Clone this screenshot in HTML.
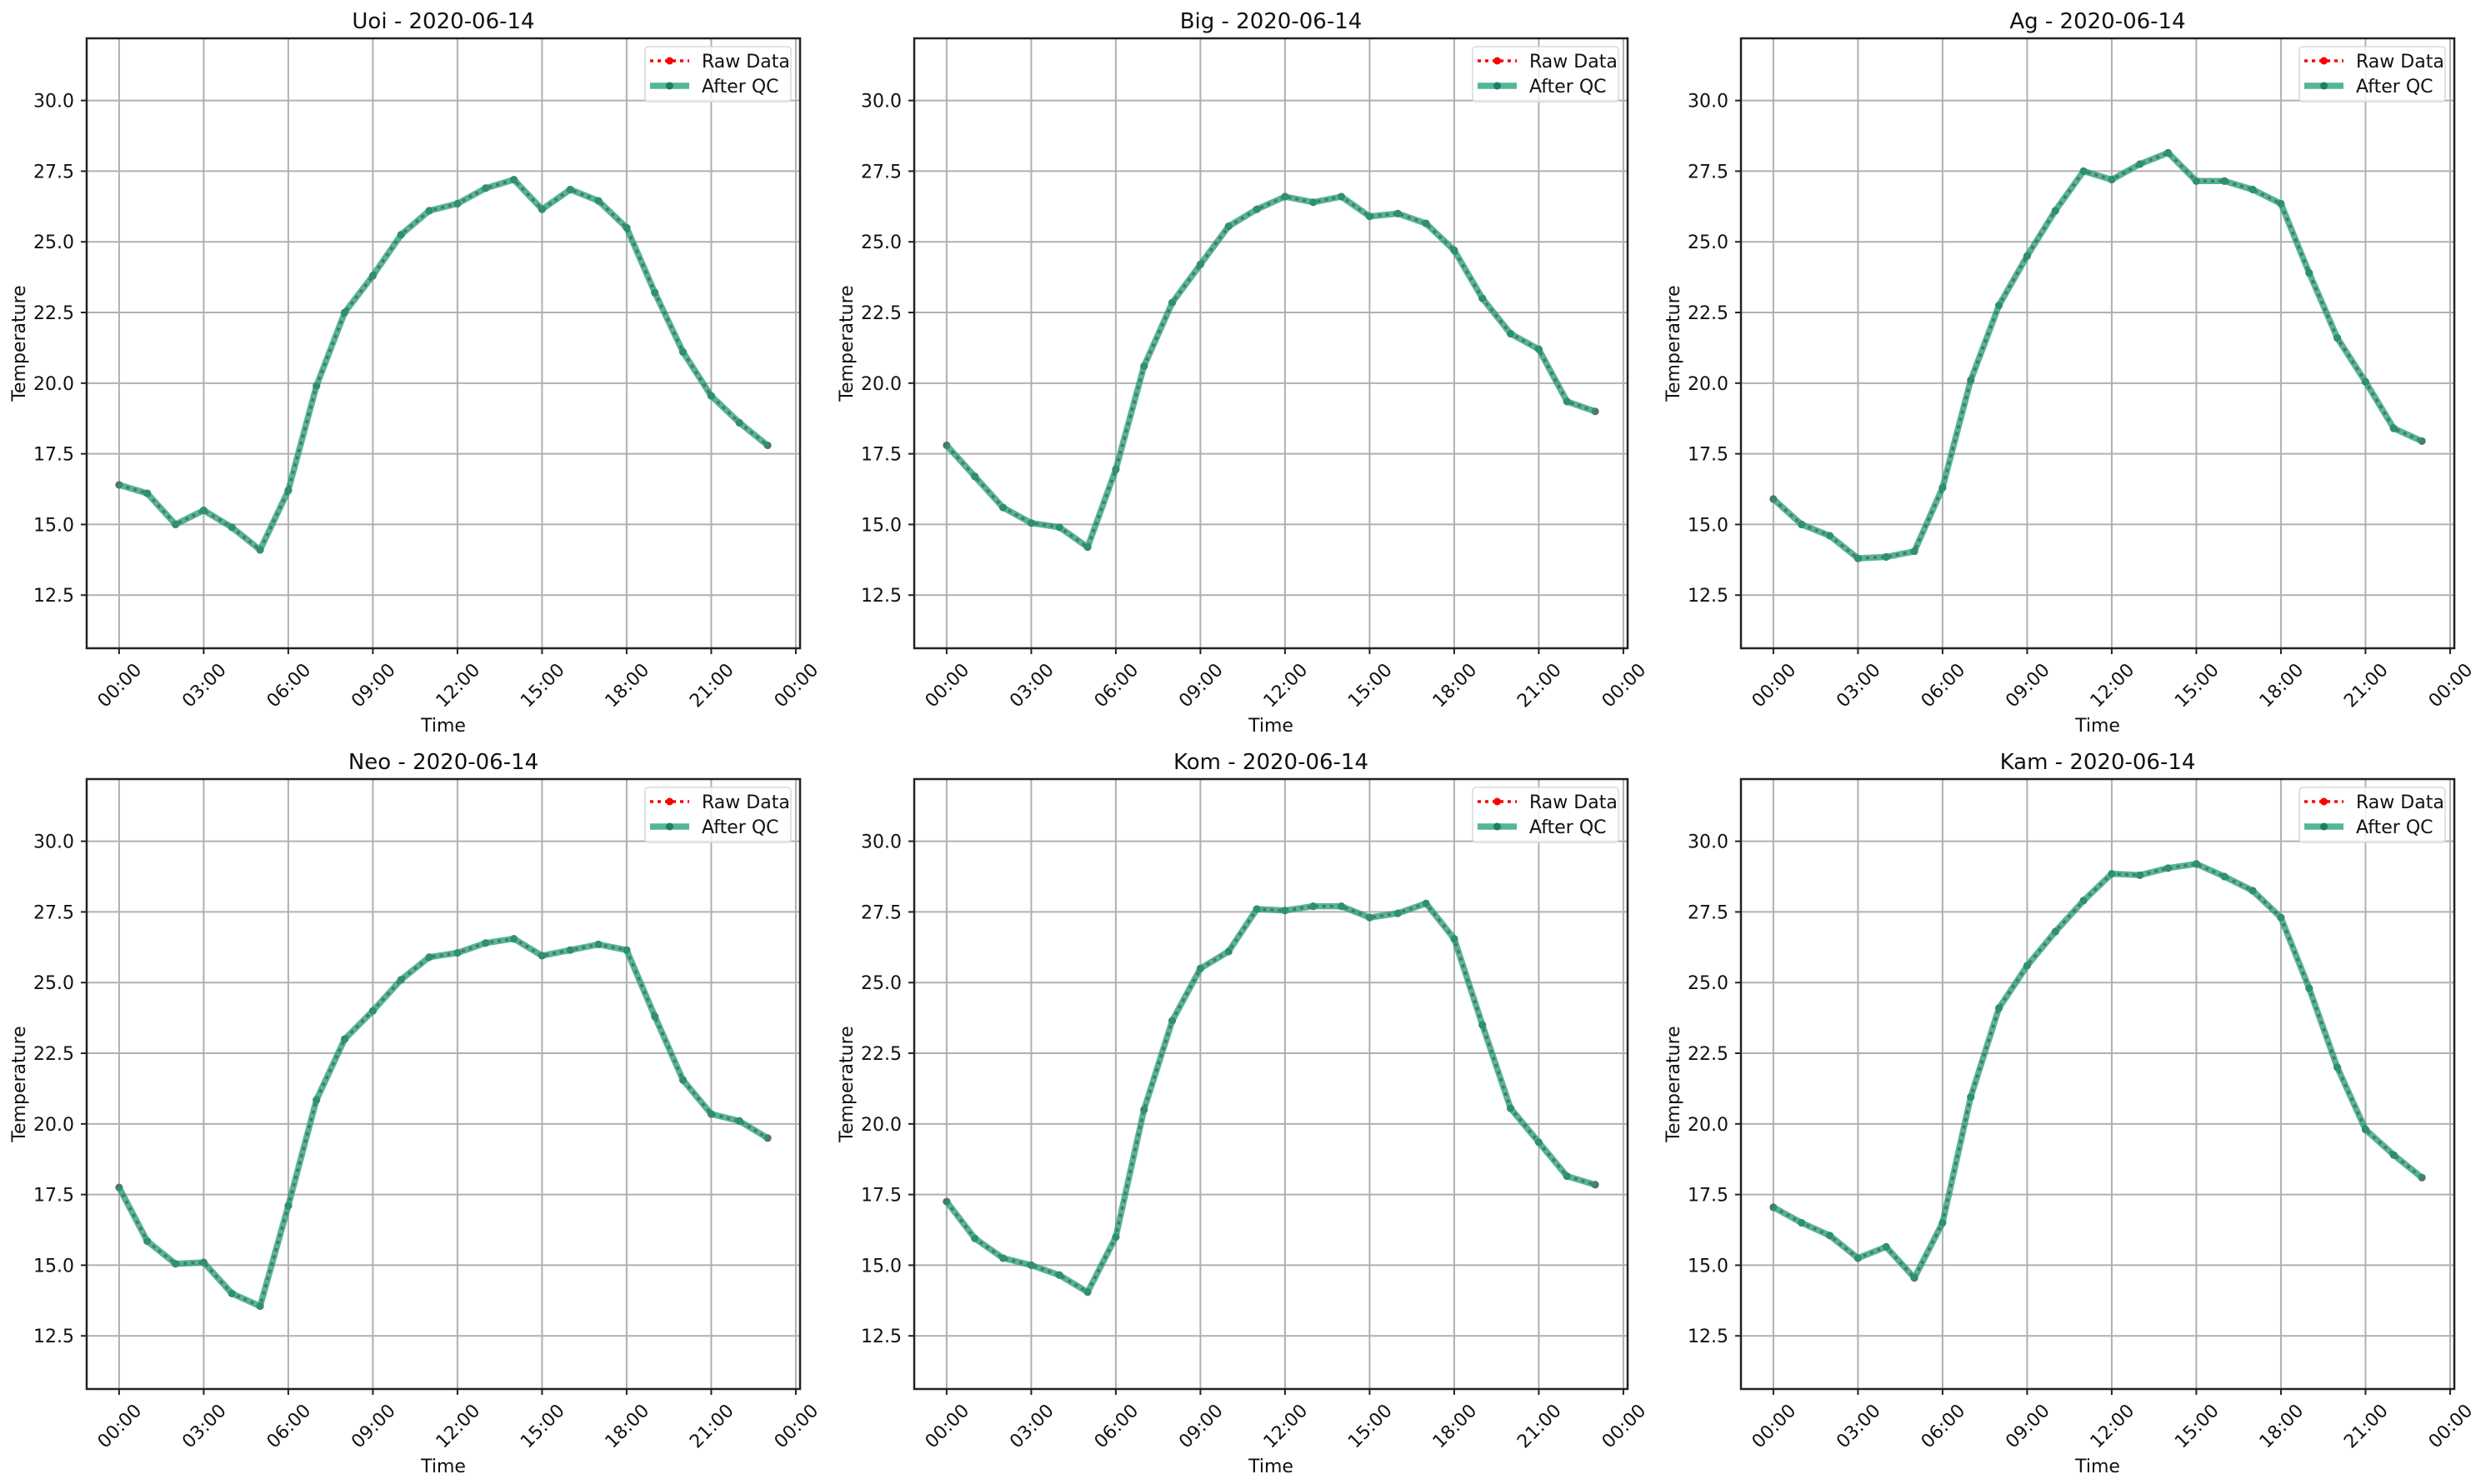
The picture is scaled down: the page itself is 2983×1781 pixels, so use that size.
<!DOCTYPE html>
<html><head><meta charset="utf-8">
<style>
html,body{margin:0;padding:0;background:#fff;}
svg{display:block;font-family:"DejaVu Sans","Liberation Sans",sans-serif;}
</style></head>
<body>
<svg id="fig" width="2983" height="1781" viewBox="0 0 2983 1781" xmlns="http://www.w3.org/2000/svg"></svg>
<script>
const stations = ["Uoi","Big","Ag","Neo","Kom","Kam"];
const dateLabel = "2020-06-14";
const hours = [0,1,2,3,4,5,6,7,8,9,10,11,12,13,14,15,16,17,18,19,20,21,22,23];
const uoiValues = [16.4,16.1,15.0,15.5,14.9,14.1,16.2,19.9,22.5,23.8,25.25,26.1,26.35,26.9,27.2,26.15,26.85,26.45,25.5,23.2,21.1,19.55,18.6,17.8];
const bigValues = [17.8,16.7,15.6,15.05,14.9,14.2,16.95,20.6,22.85,24.2,25.55,26.15,26.6,26.4,26.6,25.9,26.0,25.65,24.7,23.0,21.75,21.2,19.35,19.0];
const agValues = [15.9,15.0,14.6,13.8,13.85,14.05,16.3,20.1,22.75,24.5,26.1,27.5,27.2,27.75,28.15,27.15,27.15,26.85,26.35,23.9,21.6,20.05,18.4,17.95];
const neoValues = [17.75,15.85,15.05,15.1,14.0,13.55,17.1,20.85,23.0,24.0,25.1,25.9,26.05,26.4,26.55,25.95,26.15,26.35,26.15,23.8,21.55,20.35,20.1,19.5];
const komValues = [17.25,15.95,15.25,15.0,14.65,14.05,16.0,20.5,23.65,25.5,26.1,27.6,27.55,27.7,27.7,27.3,27.45,27.8,26.55,23.5,20.55,19.35,18.15,17.85];
const kamValues = [17.05,16.5,16.05,15.25,15.65,14.55,16.5,20.95,24.1,25.6,26.8,27.9,28.85,28.8,29.05,29.2,28.75,28.25,27.3,24.8,22.0,19.8,18.9,18.1];
const yTicks = [12.5,15.0,17.5,20.0,22.5,25.0,27.5,30.0];
const xTicks = [0,3,6,9,12,15,18,21,24];
const xTickLabels = ["00:00","03:00","06:00","09:00","12:00","15:00","18:00","21:00","00:00"];

const allValues = [uoiValues,bigValues,agValues,neoValues,komValues,kamValues];
const NS = "http://www.w3.org/2000/svg";
const fig = document.getElementById("fig");
const colX = [104,1097,2089], rowY = [46,935], W = 856, H = 732;
const xMin = -1.15, xMax = 24.15, yMin = 10.62, yMax = 32.2;

function mk(tag, attrs, parent){
  const e = document.createElementNS(NS, tag);
  for (const k in attrs) e.setAttribute(k, attrs[k]);
  parent.appendChild(e); return e;
}

allValues.forEach((vals, i) => {
  const ox = colX[i%3], oy = rowY[Math.floor(i/3)];
  const sx = h => ox + (h - xMin) / (xMax - xMin) * W;
  const sy = v => oy + (yMax - v) / (yMax - yMin) * H;
  const g = mk("g", {}, fig);
  
  

  // grid
  xTicks.forEach(t => {
    const l = mk("line", {x1:sx(t), x2:sx(t), y1:oy, y2:oy+H, stroke:"#b0b0b0", "stroke-width":2}, g);
    
    
  });
  yTicks.forEach(t => {
    const l = mk("line", {x1:ox, x2:ox+W, y1:sy(t), y2:sy(t), stroke:"#b0b0b0", "stroke-width":2}, g);
    
    
  });

  // series
  const pts = hours.map((h,k) => sx(h).toFixed(1) + "," + sy(vals[k]).toFixed(1)).join(" ");
  const raw = mk("polyline", {points:pts, fill:"none", stroke:"#ff0000", "stroke-width":3.5, "stroke-dasharray":"4 5"}, g);
  
  
  hours.forEach((h,k) => {
    const c = mk("circle", {cx:sx(h), cy:sy(vals[k]), r:4.5, fill:"#ff0000"}, g);
    
    
  });
  const qc = mk("polyline", {points:pts, fill:"none", stroke:"#1b9e77", "stroke-opacity":0.75, "stroke-width":7.5, "stroke-linejoin":"round"}, g);
  
  
  hours.forEach((h,k) => {
    const c = mk("circle", {cx:sx(h), cy:sy(vals[k]), r:4.5, fill:"#1b9e77", "fill-opacity":0.75}, g);
    
    
  });

  // spines
  const fr = mk("rect", {x:ox, y:oy, width:W, height:H, fill:"none", stroke:"#222", "stroke-width":2.5}, g);
  
  

  // y ticks
  yTicks.forEach(t => {
    mk("line", {x1:ox-7, x2:ox, y1:sy(t), y2:sy(t), stroke:"#222", "stroke-width":2}, g);
    const tx = mk("text", {x:ox-15, y:sy(t)+8, "text-anchor":"end", "font-size":22, fill:"#111"}, g);
    tx.textContent = t.toFixed(1);
    
    
  });
  // x ticks
  xTicks.forEach((t,k) => {
    mk("line", {x1:sx(t), x2:sx(t), y1:oy+H, y2:oy+H+7, stroke:"#222", "stroke-width":2}, g);
    const cx = sx(t), cy = oy + H + 44;
    const tx = mk("text", {x:cx, y:cy+8, "text-anchor":"middle", "font-size":22, fill:"#111", transform:`rotate(-45 ${cx} ${cy})`}, g);
    tx.textContent = xTickLabels[k];
    
    
  });

  // labels
  const xl = mk("text", {x:ox+W/2, y:oy+H+100, "text-anchor":"middle", "font-size":22, fill:"#111"}, g);
  xl.textContent = "Time";
  
  
  const ylx = ox - 74, yly = oy + H/2;
  const yl = mk("text", {x:ylx, y:yly, "text-anchor":"middle", "font-size":22, fill:"#111", transform:`rotate(-90 ${ylx} ${yly})`}, g);
  yl.textContent = "Temperature";
  
  
  const ti = mk("text", {x:ox+W/2, y:oy-12, "text-anchor":"middle", "font-size":26, fill:"#111"}, g);
  ti.textContent = stations[i] + " - " + dateLabel;
  
  

  // legend
  const lg = mk("g", {}, g);
  
  
  const lx = ox + W - 186, ly = oy + 10;
  mk("rect", {x:lx, y:ly, width:175, height:66, rx:4, fill:"#fff", "fill-opacity":0.8, stroke:"#d8d8d8", "stroke-width":1.5}, lg);
  mk("line", {x1:lx+6, x2:lx+53, y1:ly+17, y2:ly+17, stroke:"#ff0000", "stroke-width":3.5, "stroke-dasharray":"4 5"}, lg);
  mk("circle", {cx:lx+29.5, cy:ly+17, r:4.5, fill:"#ff0000"}, lg);
  const t1 = mk("text", {x:lx+68, y:ly+25, "font-size":22, fill:"#111"}, lg);
  t1.textContent = "Raw Data";
  
  
  mk("line", {x1:lx+6, x2:lx+53, y1:ly+47, y2:ly+47, stroke:"#1b9e77", "stroke-opacity":0.75, "stroke-width":7.5}, lg);
  mk("circle", {cx:lx+29.5, cy:ly+47, r:4.5, fill:"#1b7f64"}, lg);
  const t2 = mk("text", {x:lx+68, y:ly+55, "font-size":22, fill:"#111"}, lg);
  t2.textContent = "After QC";
  
  
});
</script>
</body></html>
